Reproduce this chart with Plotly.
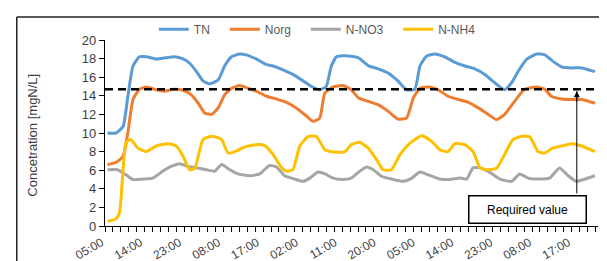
import plotly.graph_objects as go

# ---- data (hours since first sample) ----
tn_hours = [0, 2.0, 3.6, 4.7, 5.9, 7.4, 9.0, 11.3, 13.6, 15.5, 17.5, 19.0, 20.6, 22.1, 23.6,
            25.6, 27.1, 28.7, 30.6, 32.1, 34.4, 36.8, 38.3, 40.6, 42.9, 45.3, 47.2, 49.1, 50.6, 51.8,
            53.0, 54.5, 56.4, 58.0, 60.3, 62.6, 64.9, 67.2, 69.2, 71.1, 72.3, 73.8, 75.7, 78.0, 80.4,
            82.7, 85.0, 87.3, 89.6, 91.9, 93.5, 95.0, 96.9, 99.3, 101.2, 103.1, 105.1, 107.4, 109.7, 112.8]
tn_values = [10.0, 10.0, 10.7, 13.9, 17.2, 18.2, 18.2, 17.96, 18.1, 18.2, 17.96, 17.5, 16.6, 15.6, 15.3,
             15.7, 17.2, 18.2, 18.5, 18.4, 17.96, 17.35, 17.2, 16.8, 16.3, 15.6, 15.0, 14.65, 15.0, 17.2,
             18.2, 18.3, 18.25, 18.1, 17.25, 16.9, 16.45, 15.6, 14.65, 14.7, 17.2, 18.25, 18.5, 18.2, 17.6,
             17.2, 16.9, 16.3, 15.4, 14.65, 15.4, 16.6, 17.9, 18.5, 18.4, 17.7, 17.1, 17.0, 17.0, 16.6]

norg_hours = [0, 2.0, 3.6, 4.7, 5.9, 7.4, 9.0, 11.3, 13.2, 15.2, 17.5, 19.4, 21.0, 22.5, 24.1,
              25.6, 27.1, 28.7, 30.6, 32.5, 34.4, 36.8, 39.1, 41.4, 43.7, 46.1, 47.6, 49.1, 50.3, 52.2,
              54.5, 56.4, 58.0, 60.3, 62.6, 64.9, 67.2, 69.2, 70.8, 72.3, 74.6, 76.5, 78.8, 81.2, 83.5,
              85.8, 88.1, 90.0, 91.9, 94.2, 96.5, 99.3, 101.2, 102.7, 105.1, 107.4, 109.7, 112.8]
norg_values = [6.6, 6.85, 7.5, 10.0, 13.6, 14.7, 14.95, 14.65, 14.5, 14.7, 14.6, 14.1, 13.2, 12.15, 12.0,
               12.7, 14.1, 14.8, 15.1, 14.8, 14.5, 13.95, 13.65, 13.3, 12.7, 11.8, 11.25, 11.6, 14.3, 14.95,
               15.1, 14.65, 13.8, 13.4, 13.05, 12.35, 11.5, 11.6, 13.8, 14.8, 14.95, 14.65, 13.95, 13.6, 13.3,
               12.7, 12.0, 11.45, 12.0, 13.4, 14.7, 14.95, 14.7, 13.95, 13.65, 13.6, 13.6, 13.2]

no3_hours = [0, 2.3, 4.3, 5.9, 8.2, 10.5, 12.8, 14.7, 16.7, 18.6, 20.6, 22.9, 24.8, 26.4, 28.3,
             30.2, 32.9, 35.2, 37.5, 39.1, 41.0, 43.3, 45.3, 46.8, 48.7, 50.3, 52.2, 54.5, 56.4, 58.0,
             59.9, 61.5, 63.4, 65.7, 68.4, 70.4, 72.3, 74.2, 76.9, 79.2, 81.6, 83.1, 84.6, 86.2, 88.5,
             90.8, 93.5, 95.4, 97.3, 99.6, 102.3, 104.6, 106.6, 108.5, 110.5, 112.8]
no3_values = [6.05, 6.05, 5.5, 5.0, 5.05, 5.15, 5.9, 6.4, 6.7, 6.4, 6.25, 6.05, 5.9, 6.6, 6.05,
              5.6, 5.4, 5.6, 6.5, 6.35, 5.4, 5.05, 4.8, 5.15, 5.8, 5.6, 5.15, 5.0, 5.15, 5.75,
              6.35, 6.05, 5.35, 5.05, 4.8, 5.15, 5.8, 5.5, 5.05, 5.0, 5.15, 5.05, 6.25, 6.25, 5.75,
              5.05, 4.8, 5.6, 5.15, 5.05, 5.15, 6.25, 5.4, 4.8, 5.05, 5.4]

nh4_hours = [0, 2.0, 2.8, 4.3, 5.4, 7.0, 9.0, 11.3, 14.0, 15.9, 17.5, 19.0, 20.2, 22.1, 24.1,
             26.4, 27.9, 29.5, 31.8, 34.4, 36.4, 38.3, 40.3, 41.4, 42.9, 44.5, 46.4, 48.3, 50.3, 52.6,
             54.9, 56.4, 58.3, 60.3, 62.3, 63.8, 65.7, 67.7, 70.0, 72.7, 75.0, 76.9, 78.8, 80.4, 82.7,
             84.6, 86.2, 88.1, 90.0, 91.9, 93.8, 95.8, 97.7, 99.6, 101.2, 103.1, 105.1, 107.4, 109.7, 112.8]
nh4_values = [0.5, 0.8, 1.5, 9.0, 9.3, 8.4, 8.0, 8.6, 8.85, 8.6, 7.5, 6.05, 6.2, 9.3, 9.65,
              9.3, 7.85, 8.0, 8.5, 8.75, 8.65, 7.7, 6.25, 5.9, 6.05, 8.6, 9.6, 9.65, 8.2, 7.95,
              8.0, 8.75, 9.0, 8.4, 7.1, 6.05, 6.05, 7.7, 8.9, 9.7, 9.1, 8.2, 8.0, 8.85, 8.75,
              8.0, 6.25, 6.05, 6.2, 7.7, 9.3, 9.65, 9.6, 8.0, 7.85, 8.4, 8.6, 8.85, 8.6, 8.0]

tick_hours = [0, 9, 18, 27, 36, 45, 54, 63, 72, 81, 90, 99, 108]
tick_labels = ["05:00", "14:00", "23:00", "08:00", "17:00", "02:00", "11:00",
               "20:00", "05:00", "14:00", "23:00", "08:00", "17:00"]
required_value = 14.7
required_label = "Required value"

# ---- figure ----
X0, X1 = -0.58, 113.5
PAD = "\u00a0" * 3
fig = go.Figure()
series = [
    ("TN", tn_hours, tn_values, "#5B9BD5"),
    ("Norg", norg_hours, norg_values, "#ED7D31"),
    ("N-NO3", no3_hours, no3_values, "#A5A5A5"),
    ("N-NH4", nh4_hours, nh4_values, "#FFC000"),
]
for name, xs, ys, col in series:
    fig.add_trace(go.Scatter(x=xs, y=ys, name=name + PAD, mode="lines",
                             line=dict(color=col, width=3, shape="spline", smoothing=0.5)))

fig.add_shape(type="line", xref="x", yref="y", x0=X0, x1=tn_hours[-1],
              y0=required_value, y1=required_value,
              line=dict(color="black", width=2.5, dash="8px,5px"))

# arrow (line shape + arrowhead annotation), positioned in paper fractions
ARROW_PX = 0.957
fig.add_shape(type="line", xref="paper", yref="y", x0=ARROW_PX, x1=ARROW_PX,
              y0=3.5, y1=required_value - 0.2, line=dict(color="black", width=1))
fig.add_annotation(x=ARROW_PX, y=required_value - 0.2, ax=0, ay=12, xref="paper", yref="y",
                   text="", showarrow=True, arrowhead=2, arrowsize=1.2, arrowwidth=1,
                   arrowcolor="black")
fig.add_annotation(x=0.856, y=0.09, xref="paper", yref="paper", text=required_label,
                   showarrow=False, xanchor="center", yanchor="middle",
                   font=dict(family="Liberation Sans, Arial", size=12, color="black"),
                   bordercolor="black", borderwidth=1.5, bgcolor="white",
                   borderpad=6, width=104, height=14)

# y title
fig.add_annotation(x=-0.146, y=0.486, xref="paper", yref="paper", text="Concetration [mgN/L]",
                   textangle=-90, showarrow=False, xanchor="center", yanchor="middle",
                   font=dict(family="Liberation Sans, Arial", size=13, color="#404040"))

# outer frame (top & left)
fig.add_shape(type="line", xref="paper", yref="paper", x0=-0.179, x1=1.05, y0=1.124, y1=1.124,
              line=dict(color="#222222", width=1.5))
fig.add_shape(type="line", xref="paper", yref="paper", x0=-0.179, x1=-0.179, y0=1.124, y1=-0.25,
              line=dict(color="#222222", width=1.5))

fig.update_layout(
    width=607, height=261,
    margin=dict(l=97, r=17, t=32, b=43, autoexpand=False),
    paper_bgcolor="white", plot_bgcolor="white",
    font=dict(family="Liberation Sans, Arial", size=12, color="#595959"),
    legend=dict(orientation="h", x=0.099, y=0.98, xanchor="left", yanchor="bottom",
                font=dict(size=12, color="#595959"), bgcolor="rgba(0,0,0,0)",
                tracegroupgap=0, itemwidth=30),
    showlegend=True,
)
fig.update_xaxes(range=[X0, X1], tickmode="array", tickvals=tick_hours, ticktext=tick_labels,
                 tickangle=-30, ticks="", showgrid=False, zeroline=False,
                 showline=True, linecolor="black", linewidth=1.2, ticklabelstandoff=4,
                 ticklabelshift=-6,
                 tickfont=dict(size=12, color="#404040"),
                 minor=dict(ticks="outside", dtick=1.83, tick0=X0, ticklen=5, tickcolor="black",
                            showgrid=False))
fig.update_yaxes(range=[0, 20], tickmode="linear", tick0=0, dtick=2, ticks="outside", ticklen=5,
                 tickcolor="black", showgrid=False, zeroline=False, showline=True,
                 linecolor="black", linewidth=1.2, tickfont=dict(size=13, color="#404040"))

fig.write_html("out.html")
